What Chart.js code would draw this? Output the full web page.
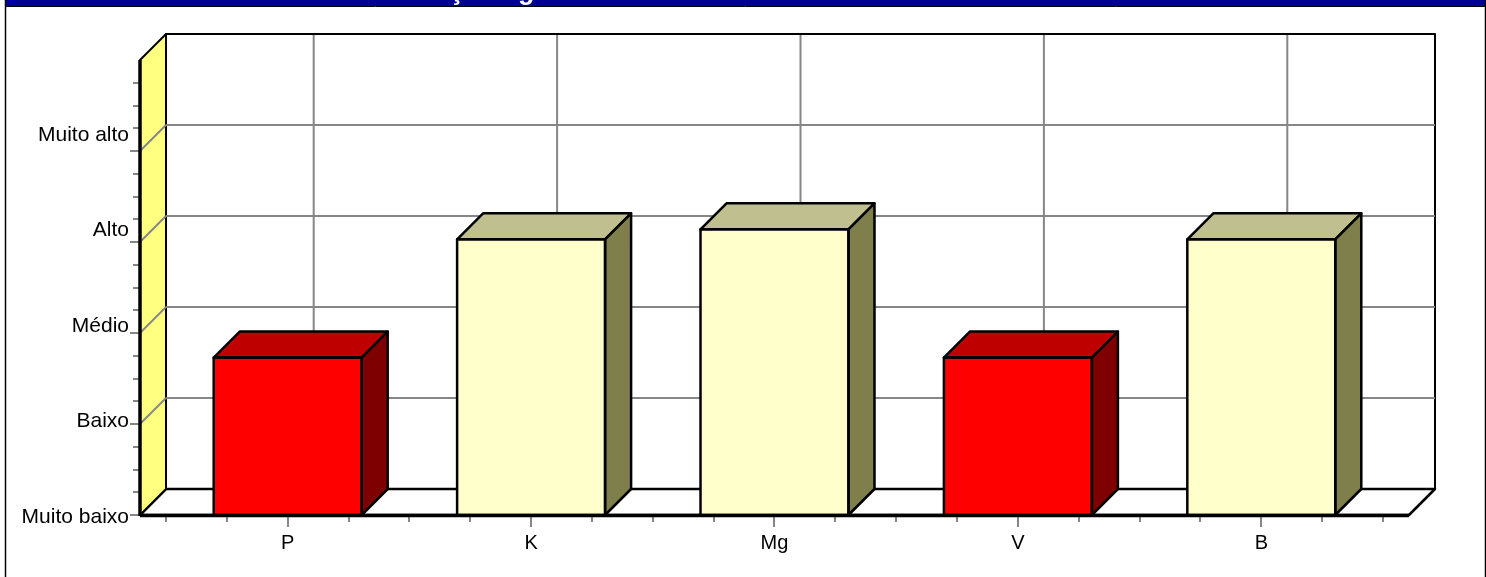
<!DOCTYPE html>
<html>
<head>
<meta charset="utf-8">
<style>
  html, body { margin: 0; padding: 0; background: #fff; }
  #wrap { position: relative; width: 1486px; height: 577px; overflow: hidden; }
</style>
<script src="https://cdn.jsdelivr.net/npm/chart.js@4"></script>
</head>
<body>
<div id="wrap"><canvas id="chart" width="1486" height="577"></canvas></div>
<script>
// Data
const categories = ['P', 'K', 'Mg', 'V', 'B'];
const values = [1.73, 3.03, 3.14, 1.73, 3.03];
const yLabels = ['Muito baixo', 'Baixo', 'Médio', 'Alto', 'Muito alto'];
const frontColors = ['#FF0000', '#FFFFCC', '#FFFFCC', '#FF0000', '#FFFFCC'];
const topColors = ['#BF0000', '#BFBF8F', '#BFBF8F', '#BF0000', '#BFBF8F'];
const sideColors = ['#7F0000', '#7F7F4C', '#7F7F4C', '#7F0000', '#7F7F4C'];

const DEPTH = 26;      // 3D offset of the back wall
const SIDE = 26;       // how far the floor runs past the outer categories
const GREY = '#868686';

function line(ctx, x1, y1, x2, y2, color, width) {
  ctx.strokeStyle = color;
  ctx.lineWidth = width;
  ctx.beginPath();
  ctx.moveTo(x1, y1);
  ctx.lineTo(x2, y2);
  ctx.stroke();
}

function poly(ctx, pts, fill, width) {
  ctx.beginPath();
  pts.forEach((p, i) => i ? ctx.lineTo(p[0], p[1]) : ctx.moveTo(p[0], p[1]));
  ctx.closePath();
  if (fill) { ctx.fillStyle = fill; ctx.fill(); }
  ctx.strokeStyle = '#000';
  ctx.lineWidth = width;
  ctx.lineJoin = 'round';
  ctx.stroke();
}

// Walls, floor and gridlines go behind the bars
const walls = {
  id: 'walls',
  beforeDatasetsDraw(chart) {
    const { ctx, chartArea: a, scales: { x, y } } = chart;
    const left = a.left - SIDE, right = a.right + SIDE;
    const y0 = y.getPixelForValue(0), yTop = y.getPixelForValue(5);
    ctx.save();
    ctx.lineCap = 'butt';

    // back wall and floor
    poly(ctx, [[left + DEPTH, yTop - DEPTH], [right + DEPTH, yTop - DEPTH], [right + DEPTH, y0 - DEPTH], [left + DEPTH, y0 - DEPTH]], null, 2);
    poly(ctx, [[left, y0], [left + DEPTH, y0 - DEPTH], [right + DEPTH, y0 - DEPTH], [right, y0]], '#fff', 2.5);

    // yellow side wall
    poly(ctx, [[left, y0], [left, yTop], [left + DEPTH, yTop - DEPTH], [left + DEPTH, y0 - DEPTH]], '#FFFF80', 2);

    // gridlines on the walls
    for (let v = 1; v < 5; v++) {
      const py = y.getPixelForValue(v);
      line(ctx, left, py, left + DEPTH, py - DEPTH, GREY, 2);
      line(ctx, left + DEPTH, py - DEPTH, right + DEPTH, py - DEPTH, GREY, 2);
    }
    categories.forEach((c, i) => {
      const px = x.getPixelForValue(i);
      line(ctx, px + DEPTH, yTop - DEPTH + 1, px + DEPTH, y0 - DEPTH - 1, GREY, 2);
    });

    // tick marks
    for (let v = 0; v <= 4.76; v += 0.25) {
      const py = Math.round(y.getPixelForValue(v));
      line(ctx, left - (v % 1 === 0 ? 10 : 7), py, left, py, GREY, 2);
    }
    const step = (x.getPixelForValue(1) - x.getPixelForValue(0)) / 4;
    for (let k = -2; k <= categories.length * 4 - 2; k++) {
      const px = Math.round(x.getPixelForValue(0) + k * step);
      line(ctx, px, y0 + 2, px, y0 + (k % 4 === 0 ? 12 : 7), GREY, 2);
    }
    ctx.restore();
  },
  afterDatasetsDraw(chart) {
    const { ctx, chartArea: a, scales: { y } } = chart;
    const meta = chart.getDatasetMeta(0);
    const y0 = y.getPixelForValue(0), yTop = y.getPixelForValue(5);
    ctx.save();

    // 3D top and side of each bar
    meta.data.forEach((bar, i) => {
      const half = bar.width / 2;
      const l = bar.x - half, r = bar.x + half, t = bar.y;
      poly(ctx, [[l, t], [l + DEPTH, t - DEPTH], [r + DEPTH, t - DEPTH], [r, t]], topColors[i], 2.5);
      poly(ctx, [[r, t], [r + DEPTH, t - DEPTH], [r + DEPTH, y0 - DEPTH], [r, y0]], sideColors[i], 2.5);
      poly(ctx, [[l, t], [r, t], [r, y0], [l, y0]], null, 2.5);
    });

    // heavy front axis lines
    line(ctx, a.left - SIDE, y0 + 0.5, a.right + SIDE, y0 + 0.5, '#000', 3.5);
    line(ctx, a.left - SIDE, y0 + 1, a.left - SIDE, yTop, '#000', 3.5);
    ctx.restore();
  }
};

// Outer frame and the cut-off title band at the very top
const frame = {
  id: 'frame',
  afterDraw(chart) {
    const { ctx } = chart;
    ctx.save();
    ctx.fillStyle = '#000099';
    ctx.fillRect(5, 0, 1481, 6);
    line(ctx, 5.5, 0, 5.5, 577, '#000', 1.5);
    line(ctx, 1485.5, 0, 1485.5, 577, '#000', 1.5);
    line(ctx, 5, 6.5, 1486, 6.5, '#000', 1);
    ctx.beginPath();
    ctx.rect(5, 0, 1481, 6);
    ctx.clip();
    ctx.fillStyle = '#fff';
    ctx.font = 'bold 27px "Liberation Sans"';
    ctx.textAlign = 'left';
    ctx.textBaseline = 'alphabetic';
    ctx.fillText('Classificação agronômica', 449 - ctx.measureText('Classifica').width, -1);
    ctx.restore();
  }
};

new Chart(document.getElementById('chart'), {
  type: 'bar',
  data: {
    labels: categories,
    datasets: [{
      data: values,
      backgroundColor: frontColors,
      borderWidth: 0,
      categoryPercentage: 1,
      barPercentage: 0.608
    }]
  },
  options: {
    responsive: false,
    animation: false,
    layout: { padding: { left: 0, right: 103, top: 60, bottom: 0 } },
    plugins: {
      legend: { display: false },
      title: { display: false },
      tooltip: { enabled: false }
    },
    scales: {
      x: {
        grid: { display: false },
        border: { display: false },
        ticks: {
          color: '#000',
          padding: 8,
          maxRotation: 0,
          font: { family: '"Liberation Sans"', size: 20 }
        },
        afterFit(s) { s.height = 62; }
      },
      y: {
        display: false,
        min: 0,
        max: 5
      },
      // the labels sit on a slightly wider spacing than the gridlines
      yLabels: {
        position: 'left',
        min: 0.02,
        max: 4.784,
        grid: { display: false },
        border: { display: false },
        afterBuildTicks(s) { s.ticks = yLabels.map((t, i) => ({ value: i })); },
        ticks: {
          color: '#000',
          padding: 29,
          font: { family: '"Liberation Sans"', size: 21 },
          callback: v => yLabels[v]
        },
        afterFit(s) { s.width = 166; }
      }
    }
  },
  plugins: [walls, frame]
});
</script>
</body>
</html>
